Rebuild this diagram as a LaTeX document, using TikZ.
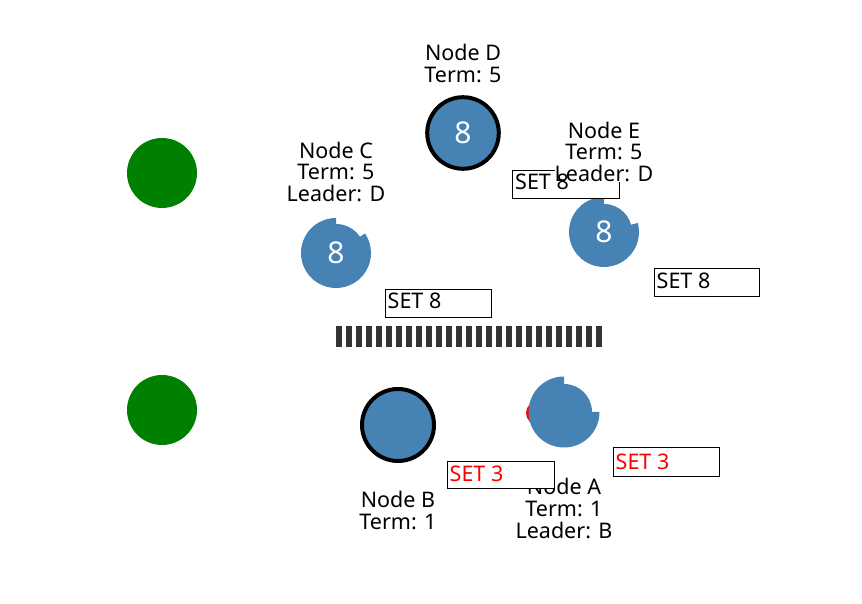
\documentclass[tikz,border=0pt]{standalone}
\usepackage{fontspec}
\setmainfont{Noto Sans}
\definecolor{nodeblue}{HTML}{4682B4}
\definecolor{nodegreen}{HTML}{008000}
\definecolor{bardark}{HTML}{333333}
\tikzset{
  lbl/.style={anchor=base, font=\fontsize{21.5}{22}\selectfont, inner sep=0pt, text depth=0pt},
  lblw/.style={lbl, fill=white},
  digit/.style={font=\fontsize{30}{30}\selectfont, text=white, inner sep=0pt},
  msgbox/.style={draw=black, fill=white, line width=1pt, inner sep=0pt, anchor=north west},
  msgtxt/.style={anchor=base west, font=\fontsize{21.5}{22}\selectfont, inner sep=0pt},
  leaderring/.style={circle, draw=black, line width=4pt, fill=nodeblue, inner sep=0pt, minimum size=71.6pt},
  peer/.style={circle, fill=nodegreen, inner sep=0pt, minimum size=70pt},
}
\begin{document}
\begin{tikzpicture}[x=1pt,y=1pt]
\useasboundingbox (0,0) rectangle (862,604);
% green circles
\node[peer] (g1) at (162,431) {};
\node[peer] (g2) at (162,194) {};
% partition bar
\coordinate (barL) at (336,267);
\coordinate (barR) at (602,267);
\draw[bardark, line width=21pt, dash pattern=on 6pt off 4pt] (barL) -- (barR);
% Node D (leader)
\node[leaderring] (d) at (463,471) {};
\node[digit] (dval) at (d) {8};
\node[lbl] (dl1) at (463,543.3) {Node D};
\node[lbl] (dl2) at (463,521.3) {Term: 5};
% Node C
\fill[nodeblue] (336,351) -- ++(90:35pt) arc[start angle=90, end angle=394, radius=35pt] -- cycle;
\fill[nodeblue] (336,351) circle[radius=29pt];
\node[digit] (cval) at (336,351) {8};
\node[lbl] (cl1) at (336,445.7) {Node C};
\node[lbl] (cl2) at (336,424) {Term: 5};
\node[lbl] (cl3) at (336,402.3) {Leader: D};
% Node E
\fill[nodeblue] (604,372) -- ++(90:35pt) arc[start angle=90, end angle=375, radius=35pt] -- cycle;
\fill[nodeblue] (604,372) circle[radius=28pt];
\node[digit] (eval) at (604,372) {8};
% message box near E (under E label)
\node[msgbox, minimum width=107pt, minimum height=28pt] (m2) at (512,434) {};
\node[lbl] (el1) at (604,465.7) {Node E};
\node[lbl] (el2) at (604,444) {Term: 5};
\node[lblw] (el3) at (604,422.3) {Leader: D};
\node[msgtxt] (m2t) at (515,414.5) {SET 8};
% other SET 8 messages
\node[msgbox, minimum width=106pt, minimum height=28pt] (m1) at (385,315) {};
\node[msgtxt] (m1t) at (387.5,295) {SET 8};
\node[msgbox, minimum width=105pt, minimum height=28pt] (m3) at (654,336) {};
\node[msgtxt] (m3t) at (656.5,315) {SET 8};
% Node B (old leader)
\node[leaderring, minimum size=72pt] (b) at (398,179) {};
\node[lbl] (bl1) at (398,96) {Node B};
\node[lbl] (bl2) at (398,74.3) {Term: 1};
% Node A
\fill[red] (538,191) circle[radius=12pt];
\fill[nodeblue] (564,192) -- ++(90:35.5pt) arc[start angle=90, end angle=360, radius=35.5pt] -- cycle;
\fill[nodeblue] (564,192) circle[radius=28pt];
\coordinate (a) at (564,192);
\node[lbl] (al1) at (564,109) {Node A};
\node[lbl] (al2) at (564,87.3) {Term: 1};
\node[lbl] (al3) at (564,65.6) {Leader: B};
% SET 3 messages
\node[msgbox, minimum width=107pt, minimum height=27.6pt] (m4) at (447,143.3) {};
\node[msgtxt, text=red] (m4t) at (449.5,122.3) {SET 3};
\node[msgbox, minimum width=106pt, minimum height=29pt] (m5) at (613,156.7) {};
\node[msgtxt, text=red] (m5t) at (615.5,134.7) {SET 3};
\end{tikzpicture}
\end{document}
